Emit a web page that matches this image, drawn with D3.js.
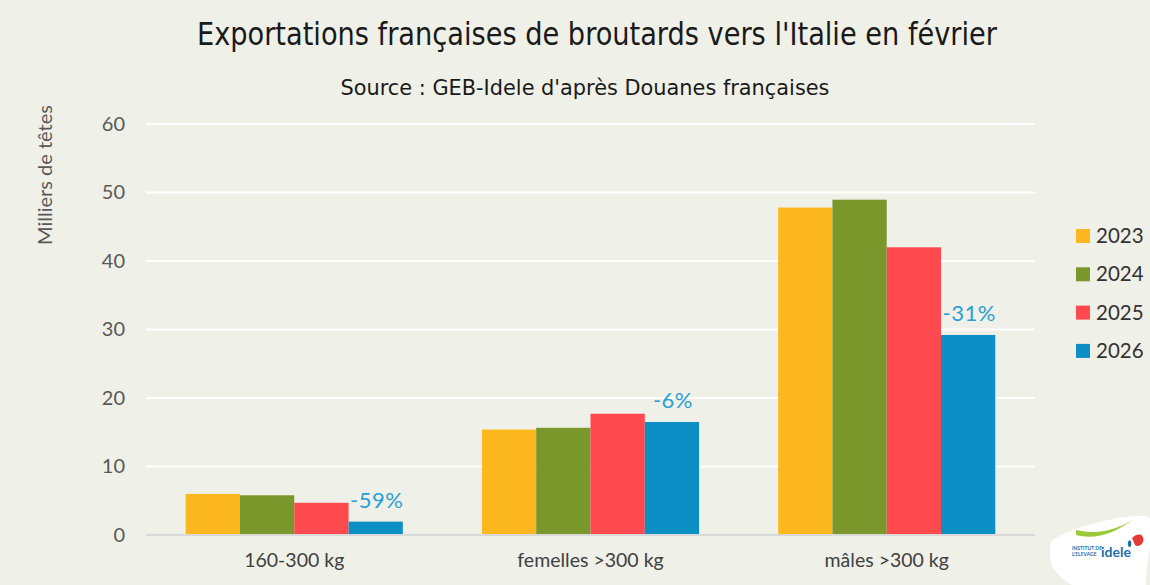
<!DOCTYPE html>
<html>
<head>
<meta charset="utf-8">
<script src="https://cdn.jsdelivr.net/npm/d3@7"></script>
<style>
  html, body { margin: 0; padding: 0; background: #eff0e8; }
  svg { display: block; }
  text { font-family: Lato, "Open Sans", sans-serif; }
  .cond { font-family: "DejaVu Sans Condensed", "DejaVu Sans", sans-serif; font-stretch: condensed; }
</style>
</head>
<body>
<svg id="chart" width="1150" height="585"></svg>
<script>
// Donnees (milliers de tetes)
const categories = ['160-300 kg', 'femelles >300 kg', 'mâles >300 kg'];
const years = ['2023', '2024', '2025', '2026'];
const values2023 = [6.0, 15.4, 47.8];
const values2024 = [5.8, 15.65, 48.95];
const values2025 = [4.7, 17.7, 42.0];
const values2026 = [1.95, 16.5, 29.2];
const variations = ['-59%', '-6%', '-31%'];
const yTicks = [0, 10, 20, 30, 40, 50, 60];
const colors = ['#fdb71f', '#7a972c', '#fe4a4f', '#0b8fc5'];

const series = [values2023, values2024, values2025, values2026];

const W = 1150, H = 585;
const M = { top: 124, right: 115, bottom: 50, left: 146 };
const svg = d3.select('#chart');

svg.append('rect').attr('width', W).attr('height', H).attr('fill', '#eff0e8');

// Titre
svg.append('text').attr('class', 'cond')
  .attr('x', 597).attr('y', 45)
  .attr('text-anchor', 'middle')
  .attr('font-size', 32).attr('fill', '#1a1a1a')
  .attr('textLength', 800).attr('lengthAdjust', 'spacingAndGlyphs')
  .text("Exportations françaises de broutards vers l'Italie en février");

svg.append('text').attr('class', 'cond')
  .attr('x', 585).attr('y', 95)
  .attr('text-anchor', 'middle')
  .attr('font-size', 22).attr('fill', '#1a1a1a')
  .attr('textLength', 489).attr('lengthAdjust', 'spacingAndGlyphs')
  .text("Source : GEB-Idele d'après Douanes françaises");

// Echelles
const x0 = d3.scaleBand().domain(categories)
  .range([M.left, W - M.right]).paddingInner(0.267).paddingOuter(0.134);
const x1 = d3.scaleBand().domain(years).range([0, x0.bandwidth()]).padding(0);
const y = d3.scaleLinear().domain([0, 60]).range([H - M.bottom, M.top]);

// Grille
svg.append('g')
  .selectAll('line').data(yTicks.filter(d => d > 0)).join('line')
  .attr('x1', M.left).attr('x2', W - M.right)
  .attr('y1', d => y(d)).attr('y2', d => y(d))
  .attr('stroke', '#ffffff').attr('stroke-width', 2);

// Axe Y
const yAxis = svg.append('g')
  .attr('transform', `translate(${M.left},0)`)
  .call(d3.axisLeft(y).tickValues(yTicks).tickSize(0).tickPadding(21));
yAxis.select('.domain').remove();
yAxis.selectAll('text')
  .attr('font-family', 'Lato, sans-serif')
  .attr('font-size', 20).attr('fill', '#595959');

svg.append('text')
  .attr('transform', `translate(52, 175) rotate(-90)`)
  .attr('text-anchor', 'middle')
  .attr('font-size', 20).attr('fill', '#595959')
  .text('Milliers de têtes');

// Barres
const groups = svg.append('g').selectAll('g').data(categories).join('g')
  .attr('transform', d => `translate(${x0(d)},0)`);

groups.selectAll('rect')
  .data((c, i) => years.map((yr, j) => ({ yr, v: series[j][i], color: colors[j] })))
  .join('rect')
  .attr('x', d => x1(d.yr))
  .attr('width', x1.bandwidth())
  .attr('y', d => y(d.v))
  .attr('height', d => y(0) - y(d.v))
  .attr('fill', d => d.color);

// Etiquettes de variation au-dessus des barres 2026
groups.append('text')
  .attr('x', x1('2026') + x1.bandwidth() / 2 + 1)
  .attr('y', (c, i) => y(values2026[i]) - 14)
  .attr('text-anchor', 'middle')
  .attr('font-size', 22).attr('fill', '#2a9fd6')
  .attr('letter-spacing', 0.5)
  .text((c, i) => variations[i]);

// Axe X
svg.append('line')
  .attr('x1', M.left).attr('x2', W - M.right)
  .attr('y1', y(0)).attr('y2', y(0))
  .attr('stroke', '#d9d9d9').attr('stroke-width', 2);

const xAxis = svg.append('g')
  .attr('transform', `translate(0,${y(0)})`)
  .call(d3.axisBottom(x0).tickSize(0).tickPadding(18));
xAxis.select('.domain').remove();
xAxis.selectAll('text')
  .attr('font-family', 'Lato, sans-serif')
  .attr('font-size', 19.5).attr('fill', '#404040');

// Legende
const leg = svg.append('g').selectAll('g').data(years).join('g')
  .attr('transform', (d, i) => `translate(1076, ${229 + i * 38.3})`);
leg.append('rect').attr('width', 14).attr('height', 14)
  .attr('fill', (d, i) => colors[i]);
leg.append('text').attr('x', 20).attr('y', 14)
  .attr('font-size', 20.5).attr('fill', '#333333')
  .text(d => d);

// Logo (approximation)
const logo = svg.append('g').attr('transform', 'translate(1050, 508)');
logo.append('path')
  .attr('d', 'M2,32 C25,18 75,6 96,8 C104,10 104,22 100,40 C96,58 96,74 96,80 L30,80 C15,76 0,62 0,48 C0,40 0,35 2,32 Z')
  .attr('fill', '#ffffff');
logo.append('path')
  .attr('d', 'M26,27 C45,32 65,26 85,10 C68,22 48,27 26,22 Z')
  .attr('fill', '#9cc93b');
logo.append('path')
  .attr('d', 'M82,30 C88,24 95,26 93,34 C91,38 87,39 85,37 Z')
  .attr('fill', '#e63a3a');
logo.append('path')
  .attr('d', 'M78,34 C80,30 82,34 81,38 C80,40 77,39 78,34 Z')
  .attr('fill', '#1b6fae');
logo.append('text').attr('x', 22).attr('y', 42)
  .attr('font-size', 5).attr('font-weight', 'bold').attr('fill', '#1b6fae')
  .text('INSTITUT DE');
logo.append('text').attr('x', 22).attr('y', 48)
  .attr('font-size', 5).attr('font-weight', 'bold').attr('fill', '#1b6fae')
  .text("L'ELEVAGE");
logo.append('text').attr('x', 51).attr('y', 49)
  .attr('font-size', 14).attr('font-weight', 'bold').attr('fill', '#1b6fae')
  .text('idele');
</script>
</body>
</html>
